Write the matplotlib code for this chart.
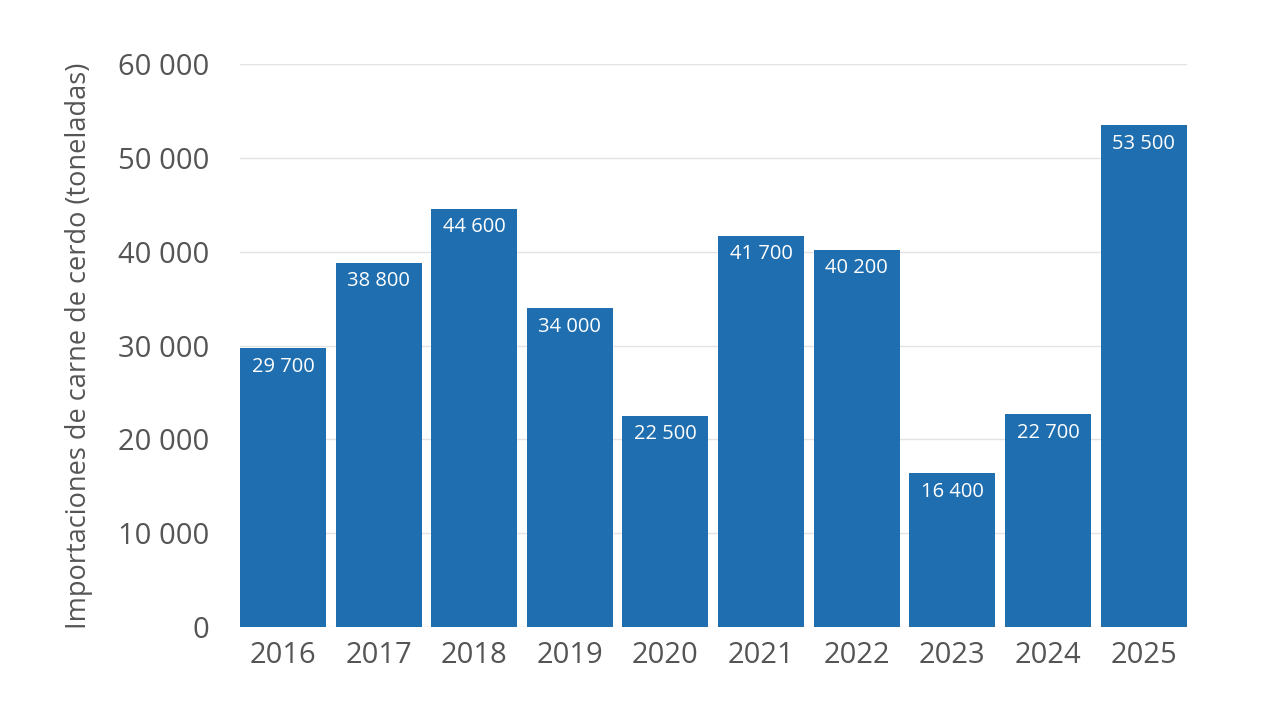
import matplotlib
matplotlib.use("Agg")
import matplotlib.pyplot as plt
import matplotlib.ticker as mticker

years = ["2016", "2017", "2018", "2019", "2020", "2021", "2022", "2023", "2024", "2025"]
values = [29700, 38800, 44600, 34000, 22500, 41700, 40200, 16400, 22700, 53500]

plt.rcParams["font.family"] = ["Open Sans", "DejaVu Sans"]

fig = plt.figure(figsize=(12.8, 7.2), dpi=100)
ax = fig.add_axes([0.1875, 0.129, 0.7395, 0.782])

bars = ax.bar(range(len(years)), values, width=0.9, color="#1f6eb0", zorder=2)
ax.set_xlim(-0.45, len(years) - 0.55)
ax.set_ylim(0, 60000)
ax.set_yticks(range(0, 60001, 10000))
ax.yaxis.set_major_formatter(mticker.FuncFormatter(lambda v, _: f"{v:,.0f}".replace(",", " ")))
ax.set_xticks(range(len(years)))
ax.set_xticklabels(years)
ax.tick_params(axis="both", length=0, labelsize=21, colors="#555555")
ax.tick_params(axis="y", pad=22)
ax.tick_params(axis="x", pad=10)
ax.grid(axis="y", color="#e3e3e3", linewidth=1, zorder=0)
ax.grid(axis="x", visible=False)
for s in ax.spines.values():
    s.set_visible(False)
ax.set_ylabel("Importaciones de carne de cerdo (toneladas)", fontsize=19.5, color="#555555", labelpad=18)

for bar, val in zip(bars, values):
    ax.text(bar.get_x() + bar.get_width() / 2, val - 900,
            f"{val:,.0f}".replace(",", " "), ha="center", va="top",
            fontsize=14.5, color="white", zorder=3)

fig.savefig("out.png", dpi=100, facecolor="white")
